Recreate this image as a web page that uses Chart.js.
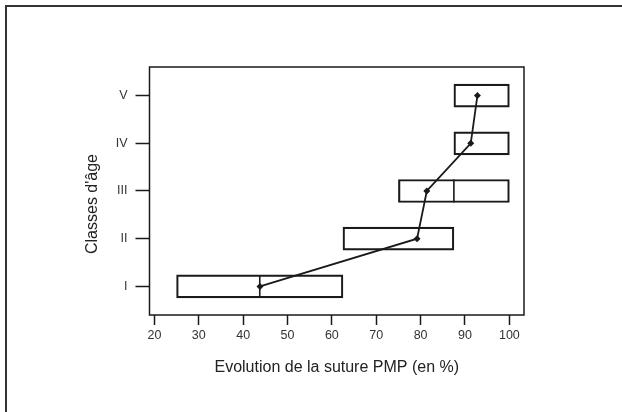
<!DOCTYPE html>
<html>
<head>
<meta charset="utf-8">
<script src="https://cdn.jsdelivr.net/npm/chart.js@4/dist/chart.umd.min.js"></script>
<style>
  html, body { margin: 0; padding: 0; background: #fff; }
  #wrap { position: relative; width: 622px; height: 412px; overflow: hidden; }
  #frame { position: absolute; left: 5px; top: 5px; width: 640px; height: 430px;
           border-left: 2px solid #333; border-top: 2px solid #333; }
  canvas { position: absolute; left: 0; top: 0; }
</style>
</head>
<body>
<div id="wrap">
  <canvas id="myChart" width="622" height="412"></canvas>
  <div id="frame"></div>
</div>
<script>
// classes d'age, y = 1..5
var classes = ['I', 'II', 'III', 'IV', 'V'];
// boites : premier et troisieme quartile
var q1 = [25, 62.5, 75, 87.5, 87.5];
var q3 = [62.5, 87.5, 100, 100, 100];
// mediane visible seulement pour I et III (ailleurs sur un bord de la boite)
var medians = [43.75, null, 87.5, null, null];
// moyennes (losanges)
var means = [43.8, 79.2, 81.4, 91.3, 92.8];
var xTicks = [20, 30, 40, 50, 60, 70, 80, 90, 100];

var ink = '#1a1a1a';
var font = "'Liberation Sans', Arial, sans-serif";

/* box round the plot + y title */
var frame = {
	id: 'frame',
	afterDraw: function(chart) {
		var ctx = chart.ctx, a = chart.chartArea;
		ctx.save();
		ctx.strokeStyle = ink;
		ctx.lineWidth = 1.5;
		ctx.strokeRect(a.left, a.top, a.right - a.left, a.bottom - a.top);
		ctx.translate(93, 204);
		ctx.rotate(-Math.PI / 2);
		ctx.font = '16px ' + font;
		ctx.fillStyle = '#222';
		ctx.textAlign = 'center';
		ctx.textBaseline = 'middle';
		ctx.fillText("Classes d'âge", 0, 0);
		ctx.restore();
	}
};

var ctx = document.getElementById('myChart').getContext('2d');
new Chart(ctx, {
	type: 'scatter',
	data: {
		datasets: [{
			type: 'line',
			data: means.map(function(m, i) { return {x: m, y: i + 1}; }),
			borderColor: ink,
			borderWidth: 1.8,
			pointStyle: 'rectRot',
			pointRadius: 3.5,
			pointBackgroundColor: ink,
			pointBorderColor: ink,
			pointBorderWidth: 0,
			order: 1
		}, {
			type: 'scatter',
			data: medians.map(function(m, i) { return {x: m, y: i + 1}; }),
			pointStyle: 'line',
			rotation: 90,
			pointRadius: 11.5,
			borderColor: ink,
			borderWidth: 1.6,
			order: 2
		}, {
			type: 'bar',
			indexAxis: 'y',
			data: classes.map(function(c, i) { return {x: [q1[i], q3[i]], y: i + 1}; }),
			backgroundColor: 'rgba(255,255,255,0)',
			borderColor: ink,
			borderWidth: 1.5,
			borderSkipped: false,
			barThickness: 23,
			order: 3
		}]
	},
	options: {
		responsive: false,
		animation: false,
		devicePixelRatio: 1,
		layout: { padding: { left: 0, top: 67, right: 98, bottom: 0 } },
		plugins: { legend: { display: false }, tooltip: { enabled: false } },
		scales: {
			x: {
				type: 'linear',
				min: 18.9,
				max: 103.3,
				afterBuildTicks: function(scale) {
					scale.ticks = xTicks.map(function(v) { return {value: v}; });
				},
				afterFit: function(scale) { scale.height = 97; },
				border: { display: false },
				grid: { drawOnChartArea: false, tickLength: 10, tickColor: ink, tickWidth: 1.5 },
				ticks: { color: '#333', padding: 3, font: { family: font, size: 12.5 } },
				title: {
					display: true,
					text: 'Evolution de la suture PMP (en %)',
					color: '#222',
					font: { family: font, size: 16 },
					padding: { top: 0, bottom: 35 }
				}
			},
			y: {
				type: 'linear',
				min: 0.4,
				max: 5.6,
				offset: false,
				afterBuildTicks: function(scale) {
					scale.ticks = classes.map(function(c, i) { return {value: i + 1}; });
				},
				afterFit: function(scale) { scale.width = 149.5; },
				border: { display: false },
				grid: { offset: false, drawOnChartArea: false, tickLength: 14, tickColor: ink, tickWidth: 1.5 },
				ticks: {
					color: '#333',
					padding: 8,
					font: { family: font, size: 12.5 },
					callback: function(v) { return classes[v - 1]; }
				}
			}
		}
	},
	plugins: [frame]
});
</script>
</body>
</html>
